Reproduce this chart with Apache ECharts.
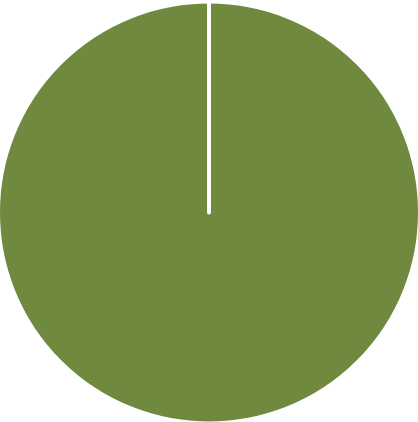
<!DOCTYPE html>
<html>
<head>
<meta charset="utf-8">
<script src="https://cdn.jsdelivr.net/npm/echarts@6/dist/echarts.min.js"></script>
<style>html,body{margin:0;padding:0;background:#fff}#c{width:418px;height:422px}</style>
</head>
<body>
<div id="c"></div>
<script>
const categories = ['A', 'B'];
const values = [100, 0];
const colors = ['#6f8a3f', '#6f8a3f'];

const chart = echarts.init(document.getElementById('c'), null, {renderer: 'canvas'});
chart.setOption({
  animation: false,
  series: [{
    type: 'pie',
    center: [209, 212.5],
    radius: [0, 211],
    startAngle: 90,
    clockwise: true,
    label: {show: false},
    labelLine: {show: false},
    itemStyle: {borderColor: '#ffffff', borderWidth: 4},
    emphasis: {disabled: true},
    data: categories.map((c, i) => ({name: c, value: values[i], itemStyle: {color: colors[i]}}))
  }]
});
</script>
</body>
</html>
